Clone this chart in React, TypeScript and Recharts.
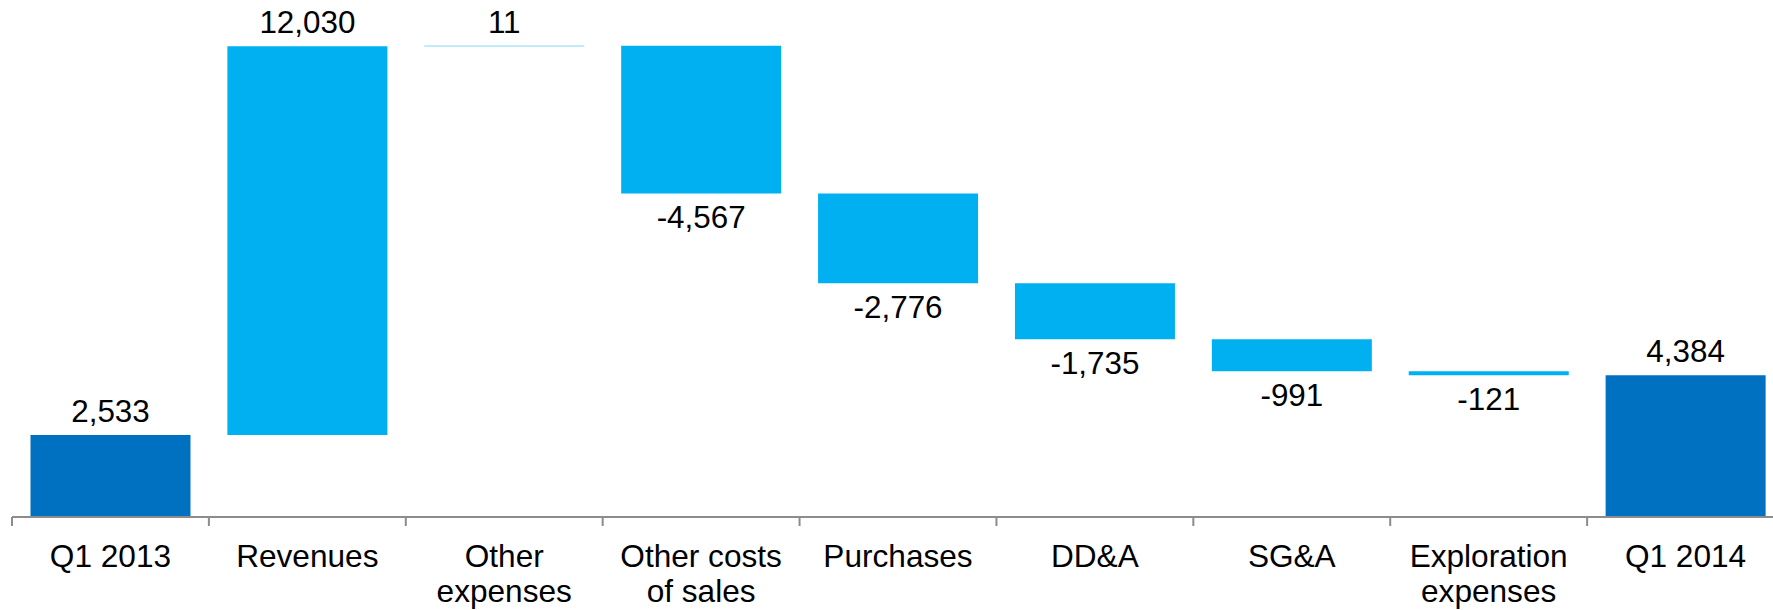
import { Bar, BarChart, Cell, LabelList, XAxis, YAxis } from "recharts";

const categories = [
  "Q1 2013",
  "Revenues",
  "Other\nexpenses",
  "Other costs\nof sales",
  "Purchases",
  "DD&A",
  "SG&A",
  "Exploration\nexpenses",
  "Q1 2014",
];
const changes = [2533, 12030, 11, -4567, -2776, -1735, -991, -121, 4384];
const isTotal = [true, false, false, false, false, false, false, false, true];
const yDomain = [0, 15000];

const FONT = "'Liberation Sans', Arial, sans-serif";
const TOTAL_COLOR = "#0070C0";
const STEP_COLOR = "#00B0F0";
const AXIS_COLOR = "#8c8c8c";

// waterfall: invisible base + visible step, stacked
let running = 0;
const data = categories.map((name, i) => {
  const change = changes[i];
  let base = 0;
  if (isTotal[i]) {
    running = change;
  } else if (change >= 0) {
    base = running;
    running += change;
  } else {
    running += change;
    base = running;
  }
  return { name, base, step: Math.abs(change), change, total: isTotal[i] };
});

const CategoryTick = (props: any) => {
  const { x, y, payload } = props;
  const lines = String(payload.value).split("\n");
  const half = payload.offset || 0;
  return (
    <g>
      <line x1={x - half} x2={x - half} y1={y} y2={y + 9} stroke={AXIS_COLOR} strokeWidth={2} />
      <text x={x} y={y} textAnchor="middle" fontSize={31.6} fill="#000" fontFamily={FONT}>
        {lines.map((l, i) => (
          <tspan key={i} x={x} dy={i === 0 ? 50 : 35}>
            {l}
          </tspan>
        ))}
      </text>
    </g>
  );
};

const ValueLabel = (props: any) => {
  const { x, y, width, height, value } = props;
  const v = Number(value);
  const cx = x + width / 2;
  const ty = v >= 0 ? y - 13 : y + height + 35;
  return (
    <text x={cx} y={ty} textAnchor="middle" fontSize={31.4} fill="#000" fontFamily={FONT}>
      {v.toLocaleString("en-US")}
    </text>
  );
};

export default function App() {
  return (
    <div style={{ width: 1773, height: 610, overflow: "hidden", background: "#fff" }}>
      <style>{"body{margin:0}"}</style>
      <BarChart
        width={1784}
        height={610}
        data={data}
        margin={{ top: 32, right: 0, left: 12, bottom: 0 }}
        barCategoryGap="9.4%"
      >
        <XAxis
          dataKey="name"
          interval={0}
          height={93}
          tickSize={0}
          tickMargin={0}
          tickLine={false}
          axisLine={{ stroke: AXIS_COLOR, strokeWidth: 2 }}
          tick={<CategoryTick />}
        />
        <YAxis hide domain={yDomain} />
        <Bar dataKey="base" stackId="w" fill="transparent" isAnimationActive={false} />
        <Bar dataKey="step" stackId="w" isAnimationActive={false}>
          {data.map((d, i) => (
            <Cell key={i} fill={d.total ? TOTAL_COLOR : STEP_COLOR} />
          ))}
          <LabelList dataKey="change" content={<ValueLabel />} />
        </Bar>
      </BarChart>
    </div>
  );
}
